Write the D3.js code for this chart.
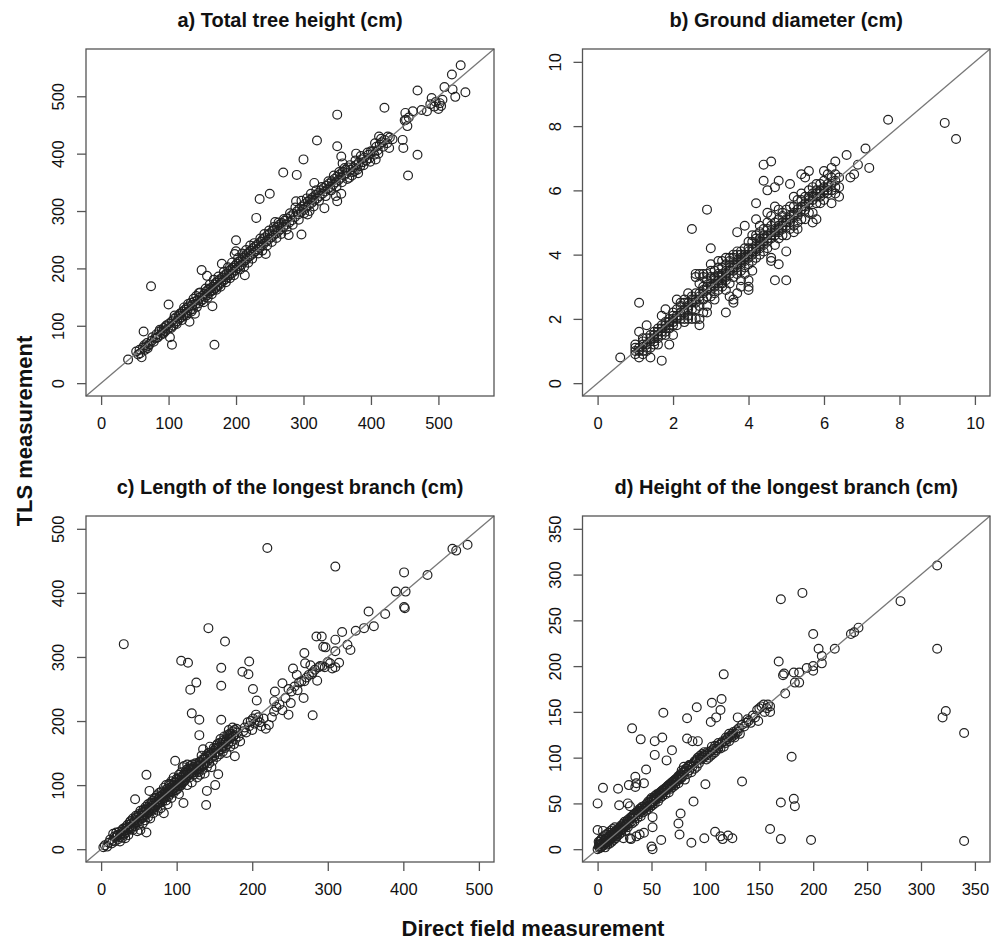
<!DOCTYPE html>
<html>
<head>
<meta charset="utf-8">
<script src="https://cdn.jsdelivr.net/npm/d3@7"></script>
<style>
  body { margin: 0; background: #fff; }
  svg { display: block; font-family: "Liberation Sans", Arial, Helvetica, sans-serif; }
</style>
</head>
<body>
<div id="chart"></div>
<script>
// panel titles and axis limits (R style, expanded 4% below)
var titles = [
  "a) Total tree height (cm)",
  "b) Ground diameter (cm)",
  "c) Length of the longest branch (cm)",
  "d) Height of the longest branch (cm)"
];
var limits = [[0, 560], [0, 10], [0, 500], [0, 350]];
var ticksA = [0, 100, 200, 300, 400, 500];
var ticksB = [0, 2, 4, 6, 8, 10];
var ticksC = [0, 100, 200, 300, 400, 500];
var ticksD = [0, 50, 100, 150, 200, 250, 300, 350];

// [direct field, TLS] pairs
var ptsA = [[40,41],[52,55],[55,50],[57,58],[60,45],[62,62],[63,90],[65,58],[66,63],[68,70],[70,65],[72,68],[74,169],[75,74],[78,72],[80,78],[82,85],[84,80],[86,90],[88,84],[90,92],[91,88],[93,96],[95,90],[97,101],[99,95],[100,137],[101,104],[102,80],[103,98],[105,67],[105,108],[107,100],[108,112],[110,105],[111,115],[113,108],[115,118],[116,112],[118,122],[119,115],[121,125],[122,118],[124,128],[125,121],[127,131],[128,124],[130,134],[131,107],[132,127],[133,140],[135,136],[136,129],[138,142],[139,121],[140,138],[141,152],[143,145],[144,139],[145,157],[146,149],[148,143],[149,197],[150,152],[151,146],[153,156],[154,150],[156,160],[157,187],[157,153],[159,163],[160,157],[162,165],[163,160],[165,134],[165,168],[166,162],[168,67],[168,172],[169,165],[170,175],[172,168],[173,178],[175,171],[176,181],[178,175],[179,208],[180,184],[181,178],[183,188],[184,181],[186,191],[187,184],[189,195],[190,188],[192,198],[193,191],[195,201],[196,194],[198,225],[198,204],[199,197],[200,249],[200,230],[201,208],[202,200],[204,211],[205,204],[207,214],[208,206],[210,218],[211,211],[213,188],[213,221],[214,214],[216,225],[217,218],[219,228],[220,221],[222,231],[223,224],[225,235],[226,227],[228,238],[229,230],[230,288],[231,241],[232,233],[234,244],[235,321],[235,236],[237,247],[238,240],[240,251],[241,243],[243,254],[244,225],[245,247],[247,258],[248,250],[250,330],[250,261],[252,254],[254,265],[255,257],[257,268],[258,281],[259,261],[261,272],[262,264],[264,276],[266,268],[268,279],[270,367],[270,272],[272,283],[274,276],[276,287],[278,258],[279,280],[281,291],[283,284],[285,295],[287,289],[289,317],[290,363],[290,299],[292,294],[294,304],[296,298],[297,259],[298,308],[300,390],[300,302],[302,312],[304,306],[306,294],[306,316],[308,310],[310,320],[312,314],[313,320],[314,324],[316,349],[316,318],[318,328],[320,423],[320,322],[322,332],[324,326],[326,336],[328,330],[330,340],[331,305],[332,334],[334,344],[336,338],[338,348],[340,342],[342,352],[344,346],[346,356],[348,326],[348,350],[350,468],[350,413],[350,317],[350,360],[352,354],[354,364],[356,330],[356,395],[356,358],[358,383],[358,368],[360,362],[362,372],[364,366],[366,376],[368,358],[370,372],[372,362],[374,376],[376,370],[378,400],[378,380],[380,372],[382,384],[384,378],[386,390],[388,385],[390,393],[393,388],[396,398],[398,392],[400,404],[403,404],[405,398],[407,390],[408,412],[410,406],[412,430],[413,416],[416,420],[420,480],[420,424],[424,418],[427,410],[428,428],[432,425],[447,424],[448,410],[450,458],[451,471],[452,459],[454,448],[455,362],[456,463],[462,474],[469,510],[469,398],[475,476],[483,474],[488,486],[490,497],[494,482],[496,490],[500,478],[502,488],[504,483],[506,494],[509,516],[520,538],[521,512],[525,499],[533,554],[540,507],
  [58,52],[64,66],[69,61],[76,80],[83,79],[87,93],[92,86],[96,99],[104,96],[109,118],[112,103],[117,121],[120,110],[123,132],[126,118],[129,138],[134,125],[137,147],[142,133],[147,158],[152,141],[155,165],[158,149],[161,172],[164,155],[167,180],[171,163],[174,186],[177,168],[182,194],[185,176],[188,202],[191,183],[194,210],[197,188],[203,218],[206,198],[209,226],[212,203],[215,232],[218,210],[221,240],[224,217],[227,244],[233,226],[236,252],[239,231],[242,260],[246,240],[249,266],[253,246],[256,272],[260,253],[263,280],[267,260],[271,286],[275,268],[280,296],[284,276],[288,306],[293,285],[297,318],[301,296],[305,322],[309,300],[311,330],[315,308],[319,336],[323,318],[327,342],[333,326],[337,352],[341,336],[345,362],[349,343],[353,368],[357,350],[361,375],[365,356],[369,380],[373,368],[377,388],[381,366],[385,396],[389,380],[395,402],[399,386],[406,418],[411,400],[415,426],[418,412],[425,430]];

var ptsB = [[0.6,0.8],[1.0,1.0],[1.0,1.1],[1.0,0.9],[1.1,1.1],[1.1,0.8],[1.1,1.6],[1.1,2.5],[1.2,1.2],[1.2,1.0],[1.2,1.3],[1.3,1.1],[1.3,1.8],[1.3,1.4],[1.4,0.8],[1.4,1.5],[1.4,1.1],[1.4,1.3],[1.5,1.4],[1.5,1.6],[1.5,1.2],[1.6,1.5],[1.6,1.7],[1.6,1.2],[1.7,1.6],[1.7,0.7],[1.7,1.8],[1.7,2.1],[1.8,1.7],[1.8,1.9],[1.8,2.3],[1.8,1.5],[1.9,1.8],[1.9,1.2],[1.9,2.0],[2.0,1.9],[2.0,2.2],[2.0,1.5],[2.0,2.0],[2.1,2.1],[2.1,2.6],[2.1,1.8],[2.2,2.2],[2.2,2.4],[2.2,2.0],[2.3,2.3],[2.3,1.9],[2.3,2.5],[2.4,2.4],[2.4,2.8],[2.4,2.1],[2.5,2.5],[2.5,2.0],[2.5,2.7],[2.5,4.8],[2.6,2.6],[2.6,3.4],[2.6,3.3],[2.6,2.3],[2.7,2.7],[2.7,1.8],[2.7,3.4],[2.7,2.4],[2.7,2.0],[2.8,2.8],[2.8,3.3],[2.8,2.2],[2.8,3.0],[2.9,2.9],[2.9,5.4],[2.9,2.4],[2.9,3.2],[2.9,2.2],[3.0,3.0],[3.0,4.2],[3.0,3.7],[3.0,2.7],[3.0,3.3],[3.1,3.1],[3.1,3.5],[3.1,2.8],[3.2,3.2],[3.2,3.6],[3.2,2.9],[3.2,3.4],[3.3,3.3],[3.3,3.8],[3.3,3.0],[3.3,3.1],[3.4,3.4],[3.4,2.2],[3.4,3.9],[3.4,2.9],[3.4,3.2],[3.5,3.5],[3.5,3.9],[3.5,3.1],[3.5,2.7],[3.6,3.6],[3.6,2.5],[3.6,2.6],[3.6,4.0],[3.6,3.3],[3.7,3.7],[3.7,4.7],[3.7,4.1],[3.7,3.4],[3.7,2.8],[3.8,3.8],[3.8,3.2],[3.8,3.0],[3.8,4.1],[3.8,3.5],[3.9,3.9],[3.9,4.9],[3.9,3.6],[3.9,4.2],[4.0,4.0],[4.0,3.2],[4.0,2.9],[4.0,3.0],[4.0,4.4],[4.0,3.7],[4.1,4.1],[4.1,4.6],[4.1,3.8],[4.1,3.5],[4.2,4.2],[4.2,5.6],[4.2,5.1],[4.2,4.5],[4.2,3.9],[4.3,4.3],[4.3,4.7],[4.3,4.0],[4.3,4.9],[4.4,4.4],[4.4,6.8],[4.4,6.3],[4.4,4.1],[4.4,4.8],[4.5,4.5],[4.5,6.0],[4.5,5.3],[4.5,4.2],[4.5,5.0],[4.6,4.6],[4.6,6.9],[4.6,3.9],[4.6,3.8],[4.6,4.9],[4.7,4.7],[4.7,6.1],[4.7,3.2],[4.7,5.5],[4.7,4.3],[4.8,4.8],[4.8,6.3],[4.8,3.7],[4.8,5.4],[4.8,4.5],[4.9,4.9],[4.9,5.3],[4.9,4.6],[5.0,5.0],[5.0,3.2],[5.0,4.1],[5.0,5.4],[5.0,4.6],[5.1,5.1],[5.1,6.2],[5.1,4.8],[5.1,5.5],[5.2,5.2],[5.2,5.8],[5.2,4.9],[5.2,4.7],[5.3,5.3],[5.3,4.8],[5.3,5.7],[5.3,5.0],[5.4,5.4],[5.4,6.5],[5.4,5.9],[5.4,5.1],[5.5,5.5],[5.5,6.4],[5.5,5.1],[5.5,5.8],[5.6,5.6],[5.6,6.6],[5.6,5.3],[5.6,6.0],[5.7,5.7],[5.7,5.0],[5.7,6.1],[5.7,5.3],[5.8,5.8],[5.8,5.1],[5.8,6.2],[5.8,5.6],[5.9,5.9],[5.9,5.6],[5.9,6.2],[6.0,6.0],[6.0,6.6],[6.0,5.7],[6.0,6.3],[6.1,6.1],[6.1,5.9],[6.1,6.5],[6.2,6.2],[6.2,5.6],[6.2,6.7],[6.3,6.3],[6.3,6.9],[6.3,5.9],[6.4,6.4],[6.4,5.8],[6.4,6.1],[6.6,7.1],[6.7,6.4],[6.8,6.5],[6.9,6.8],[7.1,7.3],[7.2,6.7],[7.7,8.2],[9.2,8.1],[9.5,7.6],
  [1.0,1.2],[1.1,1.0],[1.2,0.9],[1.2,1.4],[1.3,1.2],[1.3,1.0],[1.4,1.4],[1.5,1.5],[1.5,1.3],[1.6,1.6],[1.6,1.4],[1.7,1.5],[1.7,1.7],[1.8,1.8],[1.8,1.6],[1.9,1.9],[1.9,1.7],[2.0,2.1],[2.0,1.8],[2.1,2.0],[2.1,2.3],[2.2,2.1],[2.2,2.5],[2.3,2.2],[2.3,2.6],[2.3,2.0],[2.4,2.5],[2.4,2.3],[2.4,2.0],[2.5,2.6],[2.5,2.3],[2.6,2.5],[2.6,2.8],[2.6,2.0],[2.7,2.8],[2.7,2.6],[2.7,3.1],[2.8,2.9],[2.8,2.6],[2.8,3.4],[2.9,3.0],[2.9,2.7],[2.9,3.4],[3.0,3.1],[3.0,2.9],[3.0,3.5],[3.1,3.2],[3.1,3.0],[3.1,3.3],[3.1,2.6],[3.2,3.3],[3.2,3.1],[3.2,3.8],[3.3,3.4],[3.3,3.2],[3.3,3.6],[3.4,3.5],[3.4,3.3],[3.4,3.7],[3.5,3.6],[3.5,3.4],[3.5,3.8],[3.6,3.7],[3.6,3.5],[3.6,3.9],[3.7,3.8],[3.7,3.6],[3.7,4.0],[3.8,3.9],[3.8,3.7],[3.8,4.0],[3.9,4.0],[3.9,3.8],[3.9,3.4],[4.0,4.1],[4.0,3.9],[4.0,4.2],[4.1,4.2],[4.1,4.0],[4.1,4.4],[4.2,4.3],[4.2,4.1],[4.2,4.6],[4.3,4.4],[4.3,4.2],[4.3,4.5],[4.4,4.5],[4.4,4.3],[4.4,4.6],[4.5,4.6],[4.5,4.4],[4.5,4.8],[4.6,4.7],[4.6,4.5],[4.6,5.2],[4.7,4.8],[4.7,4.6],[4.7,5.0],[4.8,4.9],[4.8,4.7],[4.8,5.1],[4.9,5.0],[4.9,4.8],[4.9,5.2],[5.0,5.1],[5.0,4.9],[5.1,5.2],[5.1,5.0],[5.2,5.3],[5.2,5.5],[5.3,5.4],[5.3,5.2],[5.4,5.5],[5.4,5.7],[5.5,5.6],[5.5,5.4],[5.6,5.7],[5.6,5.8],[5.7,5.8],[5.7,5.9],[5.8,5.9],[5.8,6.0],[5.9,6.0],[5.9,5.8],[6.0,6.1],[6.0,5.9],[6.1,6.2],[6.1,6.0],[6.2,6.0],[6.2,6.4],[6.3,6.1],[6.3,6.5]];

var ptsC = [[3,3],[5,6],[8,4],[10,10],[12,15],[14,9],[15,13],[16,24],[18,12],[18,20],[20,18],[20,26],[22,15],[22,22],[24,27],[25,19],[25,12],[27,25],[28,30],[28,18],[30,320],[30,22],[30,28],[32,34],[32,17],[33,26],[35,38],[35,30],[36,22],[38,35],[38,42],[40,32],[40,40],[42,48],[42,30],[43,38],[45,78],[45,45],[45,36],[46,52],[48,42],[48,28],[49,50],[50,55],[50,38],[51,46],[52,60],[52,30],[54,48],[54,56],[55,40],[56,62],[56,52],[58,58],[58,45],[59,66],[60,116],[60,26],[60,54],[60,62],[62,70],[62,50],[63,58],[64,91],[64,64],[65,72],[65,48],[66,60],[68,68],[68,76],[69,56],[70,72],[70,62],[71,80],[72,66],[73,74],[74,84],[75,70],[75,60],[76,78],[77,88],[78,72],[78,82],[79,64],[80,80],[80,90],[81,74],[82,86],[83,96],[83,56],[84,80],[85,90],[86,76],[86,100],[87,86],[88,94],[88,70],[89,82],[90,92],[90,102],[91,86],[92,96],[93,80],[93,106],[94,90],[95,100],[96,88],[96,112],[97,96],[98,138],[98,104],[99,92],[100,100],[100,110],[101,94],[102,104],[103,116],[103,86],[104,98],[105,108],[106,294],[106,120],[106,100],[107,112],[108,128],[108,104],[109,72],[109,116],[110,106],[110,130],[111,120],[112,110],[113,124],[114,100],[114,132],[115,291],[115,116],[116,126],[117,112],[118,249],[118,130],[119,118],[120,212],[120,104],[120,124],[121,132],[122,116],[123,128],[124,120],[125,134],[126,260],[126,124],[127,112],[128,130],[129,120],[130,202],[130,178],[130,136],[130,126],[131,116],[132,130],[133,146],[134,124],[135,132],[135,156],[136,140],[137,118],[138,134],[139,69],[139,146],[140,91],[140,128],[141,138],[142,345],[142,150],[143,134],[144,160],[145,142],[146,128],[147,150],[148,138],[149,154],[150,146],[151,100],[152,158],[153,144],[154,164],[155,117],[155,152],[156,160],[157,148],[158,172],[159,283],[159,255],[159,202],[159,156],[160,166],[161,152],[162,160],[163,176],[164,324],[164,158],[165,168],[166,150],[167,178],[168,164],[169,186],[170,172],[171,160],[172,180],[173,168],[174,190],[175,176],[176,164],[177,145],[177,186],[178,172],[180,182],[182,176],[184,168],[187,277],[188,184],[190,190],[192,182],[194,198],[195,273],[196,293],[196,192],[198,200],[200,186],[201,250],[201,204],[203,196],[205,210],[206,232],[207,200],[208,206],[210,198],[212,192],[215,204],[218,188],[220,470],[222,194],[226,206],[229,231],[229,215],[230,246],[232,222],[236,226],[240,259],[240,217],[244,236],[248,210],[248,250],[251,228],[252,246],[254,282],[256,254],[259,272],[260,248],[262,260],[265,262],[268,236],[269,306],[269,262],[270,290],[272,268],[275,272],[277,287],[279,273],[280,209],[280,276],[283,280],[285,332],[286,263],[288,284],[290,286],[292,332],[293,286],[294,316],[296,284],[297,315],[300,292],[303,290],[306,282],[310,441],[310,327],[310,309],[310,284],[315,291],[319,339],[326,319],[330,311],[337,341],[348,345],[354,371],[361,348],[376,367],[390,402],[401,432],[401,378],[402,376],[403,402],[432,428],[465,469],[470,466],[485,475],
  [21,21],[26,23],[29,32],[31,25],[34,33],[37,31],[39,44],[41,35],[44,42],[47,50],[50,46],[53,52],[55,58],[57,50],[59,62],[61,56],[63,66],[66,64],[67,72],[69,64],[71,68],[73,80],[74,70],[76,72],[77,82],[79,76],[81,84],[82,78],[84,88],[85,82],[87,94],[89,88],[91,100],[92,90],[94,98],[95,94],[97,104],[99,100],[101,108],[102,98],[104,112],[105,102],[107,106],[109,112],[111,108],[112,118],[113,112],[115,122],[117,118],[119,126],[121,120],[122,128],[124,126],[126,132],[128,122],[129,130],[131,136],[133,128],[134,140],[136,132],[138,142],[141,144],[143,150],[145,148],[147,144],[149,158],[151,150],[153,162],[155,158],[157,166],[160,160],[162,170],[164,166],[166,172],[168,176],[170,180],[172,174],[174,184],[176,178],[179,188]];

var ptsD = [[0,0],[0,50],[0,21],[1,3],[1,8],[2,1],[2,5],[3,10],[3,2],[4,6],[4,12],[5,67],[5,20],[5,4],[6,9],[6,14],[7,7],[7,2],[8,11],[8,16],[9,8],[9,5],[10,13],[10,18],[11,10],[11,6],[12,15],[12,20],[13,12],[13,8],[14,17],[14,22],[15,14],[15,10],[16,19],[16,24],[17,16],[17,12],[18,21],[18,14],[19,66],[19,18],[20,48],[20,23],[20,16],[21,20],[22,26],[22,18],[23,22],[24,28],[24,12],[25,24],[25,30],[26,20],[27,26],[28,50],[28,32],[28,24],[29,70],[29,28],[30,47],[30,34],[30,12],[31,11],[31,30],[32,132],[32,36],[32,28],[33,34],[34,38],[34,30],[35,79],[35,68],[35,36],[36,72],[36,14],[36,40],[37,34],[38,42],[38,38],[39,16],[39,40],[40,120],[40,44],[40,36],[41,42],[42,46],[42,40],[43,72],[43,18],[43,44],[44,48],[45,87],[45,42],[45,46],[46,50],[47,44],[47,52],[48,48],[49,46],[49,54],[50,50],[50,3],[50,56],[51,0],[51,24],[51,35],[51,48],[52,52],[53,118],[53,103],[53,58],[53,50],[54,54],[55,56],[55,60],[56,52],[57,58],[58,62],[58,56],[59,10],[59,60],[60,122],[60,64],[60,58],[61,149],[61,62],[62,66],[63,60],[63,64],[64,97],[64,68],[65,66],[66,62],[66,70],[67,68],[68,72],[68,66],[69,108],[69,70],[70,74],[70,68],[71,72],[72,76],[72,70],[73,74],[74,78],[75,28],[75,72],[75,80],[76,16],[76,76],[77,39],[77,82],[78,78],[78,86],[79,80],[80,84],[80,90],[81,76],[82,88],[83,143],[83,121],[83,82],[84,90],[85,86],[86,92],[87,7],[87,84],[88,118],[88,90],[89,52],[89,94],[90,88],[91,96],[92,155],[92,90],[93,118],[93,100],[94,94],[95,102],[96,98],[97,104],[98,100],[99,12],[99,106],[100,71],[100,102],[101,98],[102,104],[103,100],[104,106],[105,139],[105,102],[106,160],[106,108],[107,104],[108,110],[109,19],[109,106],[110,144],[110,108],[111,112],[112,110],[113,114],[114,152],[114,14],[114,110],[115,164],[115,116],[116,11],[117,191],[117,112],[118,118],[119,116],[120,120],[121,15],[121,122],[122,118],[123,124],[124,122],[125,12],[125,126],[126,124],[127,122],[128,126],[130,144],[130,128],[131,132],[132,126],[134,74],[134,136],[136,134],[138,138],[139,142],[140,140],[142,138],[144,146],[146,144],[148,152],[149,140],[150,154],[152,156],[154,158],[155,150],[157,154],[158,158],[160,156],[160,22],[160,150],[168,205],[170,273],[170,51],[170,11],[172,190],[173,192],[174,170],[180,101],[182,55],[182,193],[183,47],[183,182],[187,193],[187,182],[190,280],[194,198],[198,10],[200,235],[200,200],[200,195],[205,219],[208,211],[208,203],[220,219],[235,235],[238,237],[242,242],[281,271],[315,310],[315,219],[320,144],[323,151],[340,127],[340,9],
  [2,8],[3,6],[4,3],[6,5],[7,11],[8,7],[9,12],[10,9],[11,14],[12,11],[13,16],[14,13],[15,18],[16,15],[17,20],[18,17],[19,22],[21,24],[22,21],[23,26],[24,24],[26,27],[27,30],[29,31],[31,34],[33,37],[35,39],[37,40],[39,44],[41,46],[44,45],[46,47],[48,51],[50,52],[52,55],[54,57],[56,59],[57,61],[59,63],[61,65],[62,64],[64,66],[65,69],[67,71],[69,73],[71,75],[73,77],[74,76],[76,80],[77,78],[79,84],[81,86],[83,88],[85,92],[87,92],[90,96],[92,98],[95,99],[97,101],[99,103],[102,106],[106,112],[109,113],[112,116],[116,118],[119,122],[122,126],[126,128],[129,130]];

var xLabel = "Direct field measurement";
var yLabel = "TLS measurement";

var W = 1000, H = 942;
var svg = d3.select("#chart").append("svg")
    .attr("width", W)
    .attr("height", H);

svg.append("rect").attr("width", W).attr("height", H).attr("fill", "#fff");

// plot boxes (pixels) for the 2x2 layout
var cols = [[86, 494], [582.5, 990]];
var rows = [[49, 396], [516, 862]];

var panels = [
    {pts: ptsA, ticks: ticksA, lim: limits[0], col: 0, row: 0, title: titles[0]},
    {pts: ptsB, ticks: ticksB, lim: limits[1], col: 1, row: 0, title: titles[1]},
    {pts: ptsC, ticks: ticksC, lim: limits[2], col: 0, row: 1, title: titles[2]},
    {pts: ptsD, ticks: ticksD, lim: limits[3], col: 1, row: 1, title: titles[3]}
];

panels.forEach(function(p) {
    var x0 = cols[p.col][0], x1 = cols[p.col][1];
    var y0 = rows[p.row][0], y1 = rows[p.row][1];
    var pad = (p.lim[1] - p.lim[0]) * 0.04;
    var dom = [p.lim[0] - pad, p.lim[1] + pad];

    var x = d3.scaleLinear().domain(dom).range([x0, x1]);
    var y = d3.scaleLinear().domain(dom).range([y1, y0]);

    var g = svg.append("g");

    // points
    g.append("g")
        .selectAll("circle")
        .data(p.pts)
        .enter().append("circle")
        .attr("cx", function(d) { return x(d[0]); })
        .attr("cy", function(d) { return y(d[1]); })
        .attr("r", 4.4)
        .attr("fill", "none")
        .attr("stroke", "#222")
        .attr("stroke-width", 1.2);

    // 1:1 line
    g.append("line")
        .attr("x1", x(dom[0])).attr("y1", y(dom[0]))
        .attr("x2", x(dom[1])).attr("y2", y(dom[1]))
        .attr("stroke", "#777")
        .attr("stroke-width", 1.3);

    // box
    g.append("rect")
        .attr("x", x0).attr("y", y0)
        .attr("width", x1 - x0).attr("height", y1 - y0)
        .attr("fill", "none")
        .attr("stroke", "#555")
        .attr("stroke-width", 1.3);

    // x axis
    var gx = g.append("g")
        .attr("transform", "translate(0," + y1 + ")")
        .call(d3.axisBottom(x).tickValues(p.ticks).tickSize(9).tickPadding(12));
    gx.select(".domain").remove();

    // y axis, labels rotated like R's default
    var gy = g.append("g")
        .attr("transform", "translate(" + x0 + ",0)")
        .call(d3.axisLeft(y).tickValues(p.ticks).tickSize(9));
    gy.select(".domain").remove();
    gy.selectAll("text")
        .attr("x", null).attr("dy", null)
        .attr("text-anchor", "middle")
        .attr("transform", "translate(-22,0) rotate(-90)");

    g.selectAll(".tick line").attr("stroke", "#555").attr("stroke-width", 1.3);
    g.selectAll(".tick text")
        .attr("fill", "#111")
        .style("font-size", "16.5px")
        .style("font-family", "'Liberation Sans', Arial, Helvetica, sans-serif");

    // title
    g.append("text")
        .attr("x", (x0 + x1) / 2)
        .attr("y", y0 - 22)
        .attr("text-anchor", "middle")
        .attr("fill", "#111")
        .style("font-size", "20px")
        .style("font-weight", "bold")
        .text(p.title);
});

// outer axis labels
svg.append("text")
    .attr("x", 533)
    .attr("y", 936)
    .attr("text-anchor", "middle")
    .attr("fill", "#111")
    .style("font-size", "22px")
    .style("font-weight", "bold")
    .text(xLabel);

svg.append("text")
    .attr("transform", "translate(32,431) rotate(-90)")
    .attr("text-anchor", "middle")
    .attr("fill", "#111")
    .style("font-size", "22px")
    .style("font-weight", "bold")
    .text(yLabel);
</script>
</body>
</html>
